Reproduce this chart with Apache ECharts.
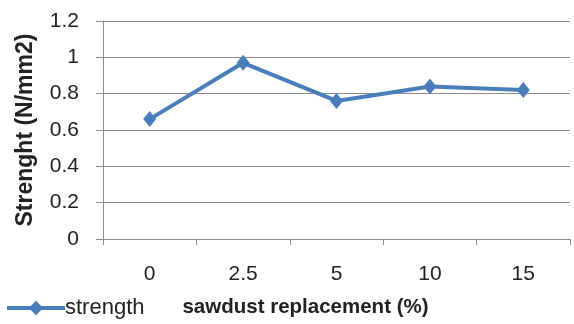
<!DOCTYPE html>
<html>
<head>
<meta charset="utf-8">
<script src="https://cdn.jsdelivr.net/npm/echarts@6/dist/echarts.min.js"></script>
<style>html,body{margin:0;padding:0;background:#fff;}#c{width:574px;height:324px;}</style>
</head>
<body>
<div id="c"></div>
<script>
var categories = ['0', '2.5', '5', '10', '15'];
var strength = [0.66, 0.97, 0.76, 0.84, 0.82];
var yTicks = [0, 0.2, 0.4, 0.6, 0.8, 1, 1.2];

var chart = echarts.init(document.getElementById('c'), null, {renderer: 'canvas'});
var font = 'Liberation Sans';
chart.setOption({
  animation: false,
  backgroundColor: '#fff',
  grid: {left: 103, right: 4, top: 21, bottom: 85, containLabel: false},
  legend: {
    left: 0, top: 292,
    itemWidth: 58, itemHeight: 18, itemGap: 2,
    lineStyle: {width: 4, color: '#4a7ebb'},
    textStyle: {fontFamily: font, fontSize: 22, color: '#222', padding: [0,0,0,-5]},
    data: ['strength']
  },
  xAxis: {
    type: 'category',
    data: categories,
    boundaryGap: true,
    name: 'sawdust replacement (%)',
    nameLocation: 'middle',
    nameGap: 58,
    nameTextStyle: {fontFamily: font, fontSize: 20.5, fontWeight: 'bold', color: '#222', padding: [0, 62, 0, 0]},
    axisLine: {show: true, lineStyle: {color: '#8c8c8c', width: 1}},
    axisTick: {show: true, length: 6, inside: false, alignWithLabel: false, lineStyle: {color: '#8c8c8c'}},
    axisLabel: {fontFamily: font, fontSize: 21, color: '#222', margin: 25},
    splitLine: {show: false}
  },
  yAxis: {
    type: 'value',
    min: yTicks[0], max: yTicks[yTicks.length - 1], interval: 0.2,
    name: 'Strenght (N/mm2)',
    nameLocation: 'middle',
    nameGap: 66,
    nameRotate: 90,
    nameTextStyle: {fontFamily: font, fontSize: 23, fontWeight: 'bold', color: '#222'},
    axisLine: {show: true, lineStyle: {color: '#8c8c8c', width: 1}},
    axisTick: {show: true, length: 7, inside: false, lineStyle: {color: '#8c8c8c'}},
    axisLabel: {fontFamily: font, fontSize: 21, color: '#222', margin: 24},
    splitLine: {show: true, lineStyle: {color: '#8c8c8c', width: 1}}
  },
  series: [{
    name: 'strength',
    type: 'line',
    data: strength,
    symbol: 'diamond',
    symbolSize: [13, 16],
    itemStyle: {color: '#4a7ebb'},
    lineStyle: {color: '#4a7ebb', width: 4}
  }]
});
</script>
</body>
</html>
